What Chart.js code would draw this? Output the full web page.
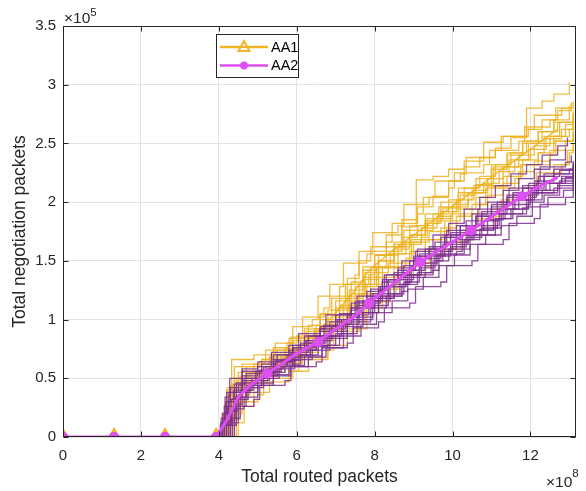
<!DOCTYPE html>
<html><head><meta charset="utf-8">
<script src="https://cdn.jsdelivr.net/npm/chart.js@4.4.0/dist/chart.umd.min.js"></script>
<style>html,body{margin:0;padding:0;background:#fff}#wrap{width:586px;height:491px;position:relative}</style>
</head><body><div id="wrap"><canvas id="c" width="586" height="491"></canvas></div>
<script>
// values in units of 1e8 (x) and 1e5 (y)
const xTicks = [0, 2, 4, 6, 8, 10, 12];
const yTicks = [0, 0.5, 1, 1.5, 2, 2.5, 3, 3.5];
const meanX = [0, 1.31, 2.62, 3.93, 4.2, 4.5, 4.8, 5.24, 5.6, 6.0, 6.55, 7.0, 7.5, 7.86, 8.5, 9.17, 9.8, 10.48, 11.1, 11.79, 12.2, 12.7];
const aa1Mean = [0, 0, 0, 0, 0.12, 0.32, 0.46, 0.56, 0.64, 0.74, 0.9, 1.06, 1.25, 1.42, 1.6, 1.76, 1.92, 2.08, 2.24, 2.4, 2.5, 2.62];
const aa2Mean = [0, 0, 0, 0, 0.14, 0.34, 0.44, 0.54, 0.62, 0.71, 0.81, 0.92, 1.03, 1.14, 1.31, 1.49, 1.62, 1.76, 1.9, 2.05, 2.13, 2.21];
const aa2MarkerX = [0, 1.31, 2.62, 3.93, 5.24, 6.55, 7.86, 9.17, 10.48, 11.79];
const aa1MarkerX = [0, 1.31, 2.62, 3.93];

// individual runs, AA1 (staircase points [x, y])
const aa1Run1 = [[4.05,0],[4.15,0.12],[4.25,0.3],[4.35,0.45],[4.5,0.55],[4.9,0.62],[5.3,0.68],[5.7,0.75],[6.1,0.84],[6.5,0.95],[6.8,1.08],[7.1,1.2],[7.4,1.32],[7.7,1.45],[8.0,1.55],[8.3,1.62],[8.7,1.79],[9.07,2.19],[9.5,2.22],[9.9,2.28],[10.3,2.35],[10.8,2.51],[11.3,2.56],[11.9,2.8],[12.3,2.86],[12.6,2.92],[13.0,3.02]];
const aa1Run2 = [[4.1,0],[4.2,0.15],[4.3,0.32],[4.45,0.5],[4.7,0.6],[5.1,0.66],[5.5,0.74],[5.9,0.82],[6.3,0.95],[6.6,1.05],[6.9,1.18],[7.3,1.35],[7.6,1.5],[7.9,1.62],[8.3,1.72],[8.7,1.85],[9.1,1.96],[9.5,2.05],[9.9,2.18],[10.3,2.3],[10.7,2.38],[11.1,2.46],[11.5,2.55],[11.9,2.62],[12.3,2.7],[12.7,2.78],[13.05,2.85]];
const aa1Run3 = [[3.95,0],[4.05,0.1],[4.2,0.22],[4.35,0.38],[4.6,0.46],[4.95,0.55],[5.3,0.62],[5.75,0.7],[6.2,0.8],[6.6,0.92],[7.0,1.08],[7.35,1.25],[7.7,1.42],[8.1,1.55],[8.5,1.66],[8.9,1.8],[9.3,1.9],[9.7,2.0],[10.15,2.12],[10.6,2.2],[11.0,2.32],[11.4,2.42],[11.8,2.5],[12.2,2.6],[12.6,2.68],[13.1,2.78]];
const aa1Run4 = [[4.2,0],[4.3,0.12],[4.45,0.28],[4.6,0.42],[4.85,0.5],[5.2,0.58],[5.6,0.66],[6.0,0.75],[6.4,0.86],[6.8,0.98],[7.2,1.12],[7.6,1.3],[8.0,1.45],[8.4,1.56],[8.8,1.66],[9.2,1.78],[9.6,1.88],[10.0,1.98],[10.4,2.08],[10.8,2.16],[11.2,2.26],[11.6,2.36],[12.0,2.45],[12.4,2.54],[12.8,2.62],[13.1,2.7]];
const aa1Run5 = [[4.3,0],[4.4,0.15],[4.55,0.3],[4.75,0.42],[5.1,0.52],[5.5,0.6],[5.95,0.68],[6.4,0.78],[6.85,0.9],[7.3,1.05],[7.7,1.22],[8.1,1.36],[8.5,1.48],[8.9,1.58],[9.3,1.68],[9.7,1.78],[10.1,1.88],[10.5,1.98],[10.9,2.06],[11.3,2.16],[11.7,2.26],[12.1,2.35],[12.5,2.44],[12.9,2.52],[13.1,2.6]];
const aa1Run6 = [[4.4,0],[4.5,0.12],[4.65,0.26],[4.9,0.38],[5.3,0.47],[5.8,0.56],[6.3,0.66],[6.8,0.78],[7.3,0.92],[7.8,1.1],[8.2,1.26],[8.6,1.38],[9.0,1.48],[9.4,1.56],[9.8,1.66],[10.2,1.76],[10.6,1.86],[11.0,1.94],[11.4,2.04],[11.8,2.12],[12.2,2.22],[12.6,2.32],[13.0,2.42],[13.1,2.48]];
const aa1Run7 = [[4.0,0],[4.08,0.2],[4.2,0.4],[4.33,0.66],[4.9,0.7],[5.4,0.76],[5.8,0.84],[6.2,0.92],[6.6,1.0],[7.0,1.1],[7.4,1.22],[7.75,1.36],[8.1,1.5],[8.5,1.62],[8.9,1.72],[9.3,1.82],[9.7,1.92],[10.1,2.02],[10.5,2.1],[10.9,2.2],[11.3,2.3],[11.7,2.4],[12.1,2.48],[12.5,2.56],[12.9,2.66],[13.1,2.72]];
const aa1Run8 = [[4.15,0],[4.25,0.14],[4.4,0.3],[4.55,0.44],[4.8,0.54],[5.2,0.6],[5.6,0.68],[6.0,0.78],[6.45,0.9],[6.9,1.02],[7.3,1.18],[7.7,1.34],[8.1,1.5],[8.5,1.6],[8.9,1.72],[9.3,1.84],[9.75,1.95],[10.2,2.06],[10.6,2.15],[11.0,2.28],[11.4,2.4],[11.8,2.52],[12.2,2.6],[12.6,2.7],[13.0,2.82]];
const aa1Run9 = [[4.05,0],[4.15,0.1],[4.3,0.24],[4.5,0.36],[4.8,0.46],[5.25,0.55],[5.7,0.63],[6.15,0.72],[6.55,0.82],[6.95,0.95],[7.35,1.12],[7.8,1.3],[8.2,1.44],[8.6,1.56],[9.0,1.66],[9.4,1.75],[9.8,1.84],[10.2,1.94],[10.6,2.04],[11.0,2.13],[11.4,2.22],[11.8,2.32],[12.2,2.42],[12.6,2.52],[13.1,2.65]];
const aa1Run10 = [[4.25,0],[4.35,0.16],[4.5,0.34],[4.7,0.48],[5.0,0.56],[5.45,0.64],[5.85,0.72],[6.25,0.82],[6.7,0.95],[7.1,1.1],[7.5,1.28],[7.9,1.44],[8.3,1.58],[8.7,1.7],[9.1,1.8],[9.5,1.9],[9.9,2.02],[10.3,2.12],[10.7,2.22],[11.1,2.32],[11.5,2.42],[11.9,2.52],[12.3,2.6],[12.7,2.68],[13.1,2.76]];
const aa1Run11 = [[4.12,0],[4.18,0.2],[4.3,0.35],[4.6,0.4],[4.75,0.55],[5.4,0.6],[5.6,0.72],[6.3,0.78],[6.45,0.92],[7.2,1.0],[7.35,1.2],[7.9,1.28],[8.05,1.45],[8.8,1.52],[8.95,1.68],[9.8,1.75],[9.95,1.9],[10.7,1.98],[10.85,2.12],[11.6,2.2],[11.75,2.32],[12.5,2.4],[12.65,2.52],[13.1,2.58]];
const aa1Run12 = [[4.0,0],[4.1,0.18],[4.22,0.42],[4.5,0.5],[4.6,0.62],[5.3,0.68],[5.45,0.8],[6.0,0.86],[6.15,1.02],[6.7,1.1],[6.85,1.3],[7.5,1.38],[7.6,1.58],[8.3,1.66],[8.45,1.82],[9.1,1.9],[9.25,2.04],[9.9,2.12],[10.05,2.25],[10.8,2.32],[10.95,2.44],[11.7,2.52],[11.85,2.64],[12.5,2.7],[12.65,2.8],[13.05,2.84]];
const aa1Run13 = [[4.35,0],[4.45,0.2],[4.6,0.3],[5.0,0.36],[5.15,0.5],[5.9,0.56],[6.05,0.68],[6.8,0.74],[6.95,0.9],[7.6,0.98],[7.75,1.15],[8.4,1.22],[8.55,1.38],[9.3,1.45],[9.45,1.6],[10.2,1.66],[10.35,1.8],[11.1,1.88],[11.25,2.02],[12.0,2.1],[12.15,2.25],[12.8,2.32],[12.95,2.44],[13.1,2.5]];
const aa1Run14 = [[4.08,0],[4.16,0.14],[4.26,0.36],[4.4,0.5],[5.0,0.55],[5.1,0.66],[5.7,0.72],[5.85,0.85],[6.5,0.9],[6.6,1.04],[7.1,1.12],[7.25,1.3],[7.85,1.38],[8.0,1.55],[8.6,1.62],[8.75,1.76],[9.5,1.82],[9.65,1.96],[10.4,2.02],[10.55,2.14],[11.3,2.22],[11.45,2.36],[12.2,2.42],[12.35,2.56],[13.0,2.62],[13.1,2.68]];
const aa1Run15 = [[4.2,0],[4.28,0.16],[4.38,0.3],[4.55,0.52],[5.2,0.56],[5.35,0.7],[6.1,0.74],[6.25,0.9],[6.9,0.96],[7.0,1.16],[7.6,1.22],[7.75,1.4],[8.35,1.48],[8.5,1.64],[9.2,1.7],[9.35,1.86],[10.0,1.92],[10.15,2.08],[10.9,2.14],[11.05,2.3],[11.8,2.36],[11.95,2.5],[12.6,2.56],[12.75,2.68],[13.1,2.74]];
const aa1Run16 = [[3.98,0],[4.06,0.12],[4.16,0.28],[4.3,0.44],[4.4,0.6],[5.05,0.64],[5.2,0.74],[5.75,0.8],[5.9,0.94],[6.4,1.0],[6.55,1.2],[7.1,1.28],[7.2,1.48],[7.8,1.56],[7.95,1.74],[8.6,1.8],[8.75,1.98],[9.4,2.04],[9.55,2.18],[10.2,2.24],[10.35,2.38],[11.1,2.44],[11.25,2.56],[11.95,2.62],[12.1,2.74],[12.8,2.8],[13.1,2.86]];

// individual runs, AA2
const aa2Run1 = [[4.0,0],[4.1,0.15],[4.25,0.32],[4.4,0.45],[4.7,0.54],[5.1,0.62],[5.5,0.7],[5.9,0.78],[6.3,0.86],[6.7,0.95],[7.1,1.05],[7.5,1.15],[7.9,1.26],[8.3,1.38],[8.7,1.5],[9.1,1.6],[9.5,1.72],[9.9,1.82],[10.3,1.94],[10.7,2.04],[11.1,2.14],[11.5,2.24],[11.9,2.32],[12.3,2.4],[12.7,2.48],[12.95,2.55]];
const aa2Run2 = [[4.1,0],[4.2,0.12],[4.35,0.26],[4.55,0.4],[4.85,0.5],[5.25,0.58],[5.65,0.66],[6.05,0.74],[6.5,0.84],[6.9,0.94],[7.3,1.04],[7.7,1.16],[8.1,1.28],[8.5,1.4],[8.9,1.5],[9.3,1.6],[9.7,1.7],[10.1,1.8],[10.5,1.9],[10.9,2.0],[11.3,2.1],[11.7,2.2],[12.1,2.28],[12.5,2.36],[12.9,2.46]];
const aa2Run3 = [[3.95,0],[4.05,0.12],[4.18,0.3],[4.3,0.42],[4.6,0.52],[5.0,0.6],[5.4,0.66],[5.8,0.74],[6.2,0.82],[6.6,0.9],[7.0,1.0],[7.4,1.1],[7.8,1.2],[8.2,1.32],[8.6,1.42],[9.0,1.52],[9.4,1.6],[9.8,1.7],[10.2,1.8],[10.6,1.88],[11.0,1.98],[11.4,2.06],[11.8,2.14],[12.2,2.22],[12.6,2.28],[13.1,2.35]];
const aa2Run4 = [[4.05,0],[4.15,0.1],[4.3,0.22],[4.45,0.34],[4.7,0.44],[5.1,0.52],[5.5,0.6],[5.9,0.68],[6.35,0.77],[6.8,0.86],[7.2,0.96],[7.6,1.06],[8.0,1.16],[8.4,1.28],[8.8,1.38],[9.2,1.48],[9.6,1.58],[10.0,1.66],[10.4,1.76],[10.8,1.84],[11.2,1.94],[11.6,2.02],[12.0,2.1],[12.4,2.16],[12.8,2.22],[13.1,2.28]];
const aa2Run5 = [[4.15,0],[4.25,0.14],[4.4,0.28],[4.6,0.4],[4.9,0.48],[5.3,0.55],[5.7,0.62],[6.1,0.7],[6.55,0.78],[7.0,0.88],[7.45,0.98],[7.9,1.1],[8.3,1.2],[8.7,1.3],[9.1,1.4],[9.5,1.5],[9.9,1.6],[10.3,1.68],[10.7,1.77],[11.1,1.86],[11.5,1.94],[11.9,2.02],[12.3,2.1],[12.7,2.16],[13.1,2.22]];
const aa2Run6 = [[4.2,0],[4.3,0.1],[4.45,0.24],[4.65,0.34],[5.0,0.44],[5.4,0.52],[5.85,0.6],[6.3,0.68],[6.75,0.76],[7.2,0.86],[7.65,0.96],[8.05,1.06],[8.45,1.16],[8.85,1.26],[9.25,1.36],[9.65,1.46],[10.05,1.55],[10.45,1.64],[10.85,1.72],[11.25,1.8],[11.65,1.88],[12.05,1.96],[12.45,2.04],[12.85,2.1],[13.1,2.15]];
const aa2Run7 = [[3.98,0],[4.06,0.16],[4.16,0.34],[4.28,0.5],[4.6,0.58],[5.0,0.64],[5.4,0.7],[5.8,0.78],[6.2,0.86],[6.6,0.94],[7.0,1.04],[7.4,1.14],[7.8,1.24],[8.2,1.34],[8.6,1.44],[9.0,1.54],[9.4,1.62],[9.8,1.72],[10.2,1.8],[10.6,1.88],[11.0,1.96],[11.4,2.04],[11.8,2.12],[12.2,2.18],[12.6,2.24],[13.1,2.3]];
const aa2Run8 = [[4.1,0],[4.2,0.1],[4.32,0.22],[4.5,0.32],[4.75,0.42],[5.15,0.5],[5.55,0.58],[5.95,0.66],[6.4,0.74],[6.85,0.84],[7.3,0.94],[7.7,1.06],[8.1,1.18],[8.5,1.3],[8.9,1.42],[9.3,1.52],[9.7,1.6],[10.1,1.68],[10.5,1.76],[10.9,1.85],[11.3,1.94],[11.7,2.02],[12.1,2.1],[12.5,2.16],[12.9,2.21],[13.1,2.25]];
const aa2Run9 = [[4.25,0],[4.35,0.12],[4.5,0.26],[4.7,0.38],[5.0,0.46],[5.4,0.53],[5.8,0.61],[6.2,0.69],[6.65,0.78],[7.1,0.88],[7.55,1.0],[7.95,1.12],[8.35,1.22],[8.75,1.32],[9.15,1.44],[9.55,1.54],[9.95,1.62],[10.35,1.7],[10.75,1.78],[11.15,1.86],[11.55,1.94],[11.95,2.0],[12.35,2.06],[12.75,2.12],[13.1,2.18]];
const aa2Run10 = [[4.0,0],[4.1,0.12],[4.22,0.26],[4.38,0.4],[4.65,0.5],[5.05,0.57],[5.45,0.64],[5.85,0.72],[6.3,0.8],[6.75,0.9],[7.15,1.0],[7.55,1.12],[7.95,1.22],[8.35,1.34],[8.75,1.46],[9.15,1.56],[9.55,1.66],[9.95,1.74],[10.35,1.84],[10.75,1.92],[11.15,2.0],[11.55,2.08],[11.95,2.16],[12.35,2.22],[12.75,2.27],[13.1,2.32]];
const aa2Run11 = [[4.08,0],[4.14,0.2],[4.26,0.3],[4.5,0.36],[4.6,0.5],[5.3,0.54],[5.45,0.65],[6.1,0.7],[6.25,0.82],[6.9,0.86],[7.05,1.0],[7.7,1.04],[7.85,1.18],[8.5,1.22],[8.65,1.36],[9.3,1.4],[9.45,1.55],[10.1,1.58],[10.25,1.72],[10.9,1.76],[11.05,1.9],[11.8,1.95],[11.95,2.08],[12.6,2.12],[12.75,2.18],[13.1,2.2]];
const aa2Run12 = [[4.02,0],[4.1,0.2],[4.2,0.38],[4.5,0.44],[4.6,0.56],[5.2,0.6],[5.35,0.72],[5.9,0.76],[6.05,0.88],[6.6,0.92],[6.75,1.04],[7.4,1.08],[7.55,1.2],[8.1,1.25],[8.25,1.38],[8.9,1.42],[9.05,1.58],[9.7,1.62],[9.85,1.76],[10.5,1.8],[10.65,1.94],[11.3,2.0],[11.45,2.12],[12.1,2.18],[12.25,2.3],[12.9,2.34],[13.05,2.4]];
const aa2Run13 = [[4.3,0],[4.4,0.16],[4.55,0.26],[4.9,0.32],[5.05,0.44],[5.7,0.48],[5.85,0.6],[6.5,0.64],[6.65,0.76],[7.3,0.8],[7.45,0.93],[8.1,0.98],[8.25,1.1],[8.9,1.14],[9.05,1.28],[9.7,1.32],[9.85,1.46],[10.5,1.5],[10.65,1.64],[11.3,1.68],[11.45,1.82],[12.1,1.86],[12.25,1.98],[12.9,2.04],[13.1,2.12]];
const aa2Run14 = [[4.12,0],[4.2,0.14],[4.32,0.32],[4.45,0.46],[5.0,0.5],[5.15,0.6],[5.75,0.64],[5.9,0.76],[6.45,0.8],[6.6,0.92],[7.25,0.96],[7.4,1.1],[8.0,1.14],[8.15,1.28],[8.8,1.32],[8.95,1.46],[9.6,1.5],[9.75,1.64],[10.4,1.68],[10.55,1.8],[11.2,1.86],[11.35,1.98],[12.0,2.04],[12.15,2.16],[12.8,2.2],[13.1,2.3]];
const aa2Run15 = [[3.96,0],[4.04,0.1],[4.14,0.26],[4.26,0.38],[4.8,0.44],[4.95,0.56],[5.6,0.6],[5.75,0.7],[6.35,0.74],[6.5,0.86],[7.15,0.9],[7.3,1.02],[7.95,1.06],[8.1,1.2],[8.7,1.24],[8.85,1.38],[9.5,1.42],[9.65,1.56],[10.3,1.6],[10.45,1.72],[11.1,1.78],[11.25,1.9],[11.9,1.96],[12.05,2.08],[12.7,2.14],[13.1,2.24]];
const aa2Run16 = [[4.22,0],[4.3,0.16],[4.42,0.34],[4.6,0.48],[5.25,0.52],[5.4,0.64],[5.95,0.68],[6.1,0.8],[6.7,0.84],[6.85,0.98],[7.45,1.02],[7.6,1.16],[8.2,1.2],[8.35,1.34],[9.0,1.38],[9.15,1.54],[9.8,1.58],[9.95,1.72],[10.6,1.76],[10.75,1.9],[11.4,1.94],[11.55,2.06],[12.2,2.12],[12.35,2.24],[13.0,2.28],[13.1,2.34]];

const aa1Runs = [aa1Run1, aa1Run2, aa1Run3, aa1Run4, aa1Run5, aa1Run6, aa1Run7, aa1Run8, aa1Run9, aa1Run10, aa1Run11, aa1Run12, aa1Run13, aa1Run14, aa1Run15, aa1Run16];
const aa2Runs = [aa2Run1, aa2Run2, aa2Run3, aa2Run4, aa2Run5, aa2Run6, aa2Run7, aa2Run8, aa2Run9, aa2Run10, aa2Run11, aa2Run12, aa2Run13, aa2Run14, aa2Run15, aa2Run16];

const C_AA1 = '#F2B326';
const C_AA2 = '#DE4EF2';
const C_RUN1 = 'rgba(237,177,32,0.85)';
const C_RUN2 = 'rgba(126,47,142,0.85)';
const FONT = "'Liberation Sans', Arial, sans-serif";
const TXT = '#262626';

const datasets = [];
datasets.push({
  label: 'AA2', order: 0,
  data: meanX.map((x, i) => ({x, y: aa2Mean[i]})),
  borderColor: C_AA2, borderWidth: 3, backgroundColor: C_AA2,
  pointStyle: 'star',
  pointRadius: ctx => (ctx.raw && aa2MarkerX.includes(ctx.raw.x)) ? 5 : 0,
  pointBorderWidth: 3.5, pointBorderColor: C_AA2, pointBackgroundColor: C_AA2
});
aa2Runs.forEach((r, i) => datasets.push({
  label: 'aa2run' + i, order: 1, data: r, stepped: 'before',
  borderColor: C_RUN2, borderWidth: 1.3, pointRadius: 0
}));
aa1Runs.forEach((r, i) => datasets.push({
  label: 'aa1run' + i, order: 2, data: r, stepped: 'before',
  borderColor: C_RUN1, borderWidth: 1.3, pointRadius: 0
}));
datasets.push({
  label: 'AA1', order: 3,
  data: meanX.map((x, i) => ({x, y: aa1Mean[i]})),
  borderColor: C_RUN1, borderWidth: 1.5, backgroundColor: C_AA1,
  pointStyle: 'triangle',
  pointRadius: ctx => (ctx.raw && aa1MarkerX.includes(ctx.raw.x)) ? 8 : 0,
  pointBorderWidth: 2, pointBorderColor: C_AA1, pointBackgroundColor: C_AA1
});

const decor = {
  id: 'decor',
  afterDraw(chart) {
    const ctx = chart.ctx;
    const a = chart.chartArea;
    const xs = chart.scales.x, ys = chart.scales.y;
    const L = Math.round(a.left) + 0.5, R = Math.round(a.right) - 0.5;
    const T = Math.round(a.top) + 0.5, B = Math.round(a.bottom) - 0.5;
    ctx.save();
    ctx.strokeStyle = TXT; ctx.lineWidth = 1;
    ctx.strokeRect(L, T, R - L, B - T);
    ctx.beginPath();
    xTicks.forEach(v => {
      const px = Math.round(xs.getPixelForValue(v)) + 0.5;
      ctx.moveTo(px, B); ctx.lineTo(px, B - 5);
      ctx.moveTo(px, T); ctx.lineTo(px, T + 5);
    });
    yTicks.forEach(v => {
      const py = Math.round(ys.getPixelForValue(v)) + 0.5;
      ctx.moveTo(L, py); ctx.lineTo(L + 5, py);
      ctx.moveTo(R, py); ctx.lineTo(R - 5, py);
    });
    ctx.stroke();

    ctx.fillStyle = TXT;
    // axis titles
    ctx.font = '17.5px ' + FONT;
    ctx.textAlign = 'center'; ctx.textBaseline = 'alphabetic';
    ctx.fillText('Total routed packets', (a.left + a.right) / 2, 482);
    ctx.save();
    ctx.translate(25, (a.top + a.bottom) / 2);
    ctx.rotate(-Math.PI / 2);
    ctx.fillText('Total negotiation packets', 0, 0);
    ctx.restore();

    // exponent labels
    ctx.textAlign = 'left';
    ctx.font = '15.5px ' + FONT;
    ctx.fillText('\u00d710', 64, 23);
    let w = ctx.measureText('\u00d710').width;
    ctx.font = '11.5px ' + FONT;
    ctx.fillText('5', 64 + w, 16);
    ctx.font = '15.5px ' + FONT;
    ctx.fillText('\u00d710', 546, 487);
    w = ctx.measureText('\u00d710').width;
    ctx.font = '11.5px ' + FONT;
    ctx.fillText('8', 546 + w, 477);

    // legend
    const lx = 216.5, ly = 34.5, lw = 82, lh = 43;
    ctx.fillStyle = '#fff';
    ctx.fillRect(lx, ly, lw, lh);
    ctx.strokeStyle = '#262626'; ctx.lineWidth = 1;
    ctx.strokeRect(lx, ly, lw, lh);
    const rows = [{label: 'AA1', c: C_AA1, y: 47, m: 'tri'}, {label: 'AA2', c: C_AA2, y: 65.5, m: 'star'}];
    rows.forEach(r => {
      ctx.strokeStyle = r.c; ctx.lineWidth = 2.5;
      ctx.beginPath(); ctx.moveTo(220, r.y); ctx.lineTo(268, r.y); ctx.stroke();
      if (r.m === 'tri') {
        ctx.fillStyle = '#fff';
        ctx.beginPath();
        ctx.moveTo(244, r.y - 6); ctx.lineTo(249.5, r.y + 4); ctx.lineTo(238.5, r.y + 4); ctx.closePath();
        ctx.fill();
        ctx.lineWidth = 2; ctx.stroke();
        ctx.beginPath(); ctx.moveTo(241, r.y); ctx.lineTo(247, r.y); ctx.stroke();
      } else {
        ctx.lineWidth = 2.5;
        ctx.beginPath();
        for (let k = 0; k < 4; k++) {
          const ang = k * Math.PI / 4;
          ctx.moveTo(244 - 4 * Math.cos(ang), r.y - 4 * Math.sin(ang));
          ctx.lineTo(244 + 4 * Math.cos(ang), r.y + 4 * Math.sin(ang));
        }
        ctx.stroke();
      }
      ctx.fillStyle = '#000';
      ctx.font = '14.5px ' + FONT;
      ctx.textAlign = 'left'; ctx.textBaseline = 'middle';
      ctx.fillText(r.label, 271, r.y + 0.5);
    });
    ctx.restore();
  }
};

new Chart(document.getElementById('c'), {
  type: 'line',
  data: { datasets },
  options: {
    responsive: false, animation: false, devicePixelRatio: 1,
    layout: { padding: { top: 26, right: 5, left: 0, bottom: 0 } },
    plugins: { legend: { display: false }, tooltip: { enabled: false } },
    elements: { line: { tension: 0 } },
    scales: {
      x: {
        type: 'linear', min: 0, max: 13.17,
        afterBuildTicks: s => { s.ticks = xTicks.map(v => ({ value: v })); },
        ticks: { font: { family: FONT, size: 15 }, color: TXT, padding: 10, maxRotation: 0, autoSkip: false, callback: v => String(v) },
        grid: { color: '#e2e2e2', drawTicks: false },
        border: { display: false },
        afterFit: s => { s.height = 54; }
      },
      y: {
        type: 'linear', min: 0, max: 3.5,
        afterBuildTicks: s => { s.ticks = yTicks.map(v => ({ value: v })); },
        ticks: { font: { family: FONT, size: 15 }, color: TXT, padding: 7, autoSkip: false, callback: v => String(v) },
        grid: { color: '#e2e2e2', drawTicks: false },
        border: { display: false },
        afterFit: s => { s.width = 63; }
      }
    }
  },
  plugins: [decor]
});
</script>
</body></html>
